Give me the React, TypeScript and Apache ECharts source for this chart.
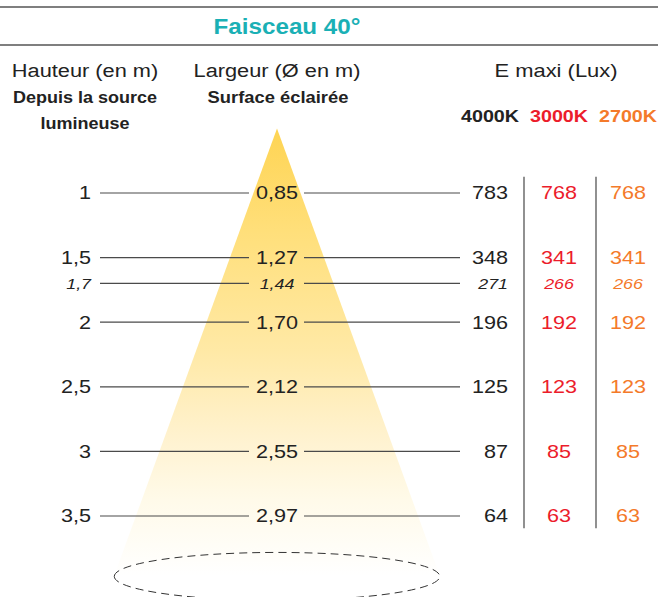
import React, { useEffect, useRef } from "react";
import * as echarts from "echarts";

const heights = [1, 1.5, 1.7, 2, 2.5, 3, 3.5];
const heightLabels = ["1", "1,5", "1,7", "2", "2,5", "3", "3,5"];
const widthLabels = ["0,85", "1,27", "1,44", "1,70", "2,12", "2,55", "2,97"];
const lux4000 = [783, 348, 271, 196, 125, 87, 64];
const lux3000 = [768, 341, 266, 192, 123, 85, 63];
const lux2700 = [768, 341, 266, 192, 123, 85, 63];
const italicHeights = [1.7];
const beamAngle = 40;
const coneTop = 0.5;
const coneBase = 3.96;

const FONT = "'Liberation Sans', Arial, Helvetica, sans-serif";
const DARK = "#222";
const RED = "#ec1c2b";
const ORANGE = "#f47a2a";
const TEAL = "#1ab0b5";
const LINE = "#4a4a4a";

function label(x: number, y: number, text: string, fill: string, font: string, align: string, sx: number) {
  return {
    type: "text",
    x,
    y,
    scaleX: sx,
    style: { text, fill, font, align, verticalAlign: "middle" },
  };
}

export default function App() {
  const ref = useRef<HTMLDivElement>(null);
  useEffect(() => {
    const chart = echarts.init(ref.current!, null, { renderer: "svg" });
    const tanHalf = Math.tan(((beamAngle / 2) * Math.PI) / 180);
    const cx = 277;
    const reg = `18px ${FONT}`;
    const bold = `bold 17px ${FONT}`;

    const option: any = {
      animation: false,
      backgroundColor: "#fff",
      grid: { left: 0, right: 0, top: 128.4, height: 452.2 },
      xAxis: { type: "value", min: 0, max: 658, show: false },
      yAxis: { type: "value", min: 0.5, max: 4, inverse: true, show: false },
      graphic: [
        { type: "line", shape: { x1: 0, y1: 7, x2: 658, y2: 7 }, style: { stroke: "#555", lineWidth: 1.5 } },
        { type: "line", shape: { x1: 0, y1: 45, x2: 658, y2: 45 }, style: { stroke: "#555", lineWidth: 1.5 } },
        label(287, 26, "Faisceau 40°", TEAL, `bold 22px ${FONT}`, "center", 1.1),
        label(85, 71, "Hauteur (en m)", DARK, reg, "center", 1.21),
        label(277, 71, "Largeur (Ø en m)", DARK, reg, "center", 1.21),
        label(556, 71, "E maxi (Lux)", DARK, reg, "center", 1.22),
        label(85, 97, "Depuis la source", DARK, bold, "center", 1.06),
        label(85, 123, "lumineuse", DARK, bold, "center", 1.06),
        label(278, 97, "Surface éclairée", DARK, bold, "center", 1.08),
        label(490, 116, "4000K", DARK, bold, "center", 1.16),
        label(559, 116, "3000K", RED, bold, "center", 1.16),
        label(628, 116, "2700K", ORANGE, bold, "center", 1.16),
      ],
      series: [
        {
          type: "custom",
          silent: true,
          data: [[coneTop, coneBase]],
          renderItem: (params: any, api: any) => {
            const top = api.coord([cx, api.value(0)]);
            const base = api.coord([cx, api.value(1)]);
            const hw = (base[1] - top[1]) * tanHalf;
            return {
              type: "group",
              children: [
                {
                  type: "polygon",
                  shape: { points: [[top[0], top[1]], [top[0] - hw, base[1]], [top[0] + hw, base[1]]] },
                  style: {
                    fill: new echarts.graphic.LinearGradient(
                      0, top[1], 0, base[1],
                      [
                        { offset: 0, color: "#fed453" },
                        { offset: 0.23, color: "#ffdf7a" },
                        { offset: 0.5, color: "#ffe9a6" },
                        { offset: 0.69, color: "#fff2cf" },
                        { offset: 0.83, color: "#fffae9" },
                        { offset: 1, color: "#ffffff" },
                      ],
                      true
                    ),
                  },
                },
                {
                  type: "ellipse",
                  shape: { cx: top[0], cy: base[1] + 1, rx: hw, ry: 24 },
                  style: { fill: "none", stroke: "#333", lineWidth: 1, lineDash: [8, 5] },
                },
              ],
            };
          },
        },
        {
          type: "custom",
          silent: true,
          data: [[heights[0] - 0.125, heights[heights.length - 1] + 0.095]],
          renderItem: (params: any, api: any) => {
            const y1 = api.coord([0, api.value(0)])[1];
            const y2 = api.coord([0, api.value(1)])[1];
            return {
              type: "group",
              children: [524, 596].map((x) => ({
                type: "line",
                shape: { x1: x, y1, x2: x, y2 },
                style: { stroke: "#555", lineWidth: 1.3 },
              })),
            };
          },
        },
        {
          type: "custom",
          silent: true,
          data: heights.map((h, i) => [i, h]),
          renderItem: (params: any, api: any) => {
            const i = params.dataIndex;
            const h = heights[i];
            const y = api.coord([0, h])[1];
            const it = italicHeights.includes(h);
            const size = it ? 15.5 : 18;
            const sx = it ? 1.15 : 1.2;
            const f = `${it ? "italic " : ""}${size}px ${FONT}`;
            return {
              type: "group",
              children: [
                label(91, y, heightLabels[i], DARK, f, "right", sx),
                { type: "line", shape: { x1: 100, y1: y, x2: 249, y2: y }, style: { stroke: LINE, lineWidth: 1.2 } },
                label(277, y, widthLabels[i], DARK, f, "center", sx),
                { type: "line", shape: { x1: 304, y1: y, x2: 460, y2: y }, style: { stroke: LINE, lineWidth: 1.2 } },
                label(508, y, String(lux4000[i]), DARK, f, "right", sx),
                label(559, y, String(lux3000[i]), RED, f, "center", sx),
                label(628, y, String(lux2700[i]), ORANGE, f, "center", sx),
              ],
            };
          },
        },
      ],
    };
    chart.setOption(option);
    return () => chart.dispose();
  }, []);
  return (
    <div
      ref={ref}
      style={{ position: "fixed", left: 0, top: 0, width: 658, height: 597 }}
    />
  );
}
